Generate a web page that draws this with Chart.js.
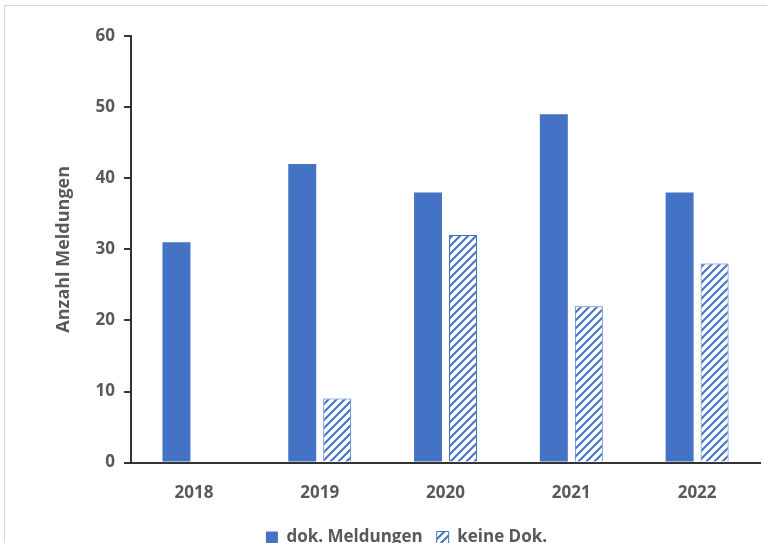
<!DOCTYPE html>
<html>
<head>
<meta charset="utf-8">
<script src="https://cdn.jsdelivr.net/npm/chart.js@4"></script>
<style>
  html, body { margin: 0; padding: 0; background: #fff; overflow: hidden; }
  #frame { position: absolute; left: 4px; top: 5px; width: 770px; height: 560px;
           border-top: 1px solid #d9d9d9; border-left: 1px solid #d9d9d9; }
  #wrap { position: absolute; left: 0; top: 0; width: 767px; height: 556px; }
</style>
</head>
<body>
<div id="frame"></div>
<div id="wrap"><canvas id="chartMeldungen"></canvas></div>
<script>
// Daten
const jahre = ['2018', '2019', '2020', '2021', '2022'];
const dokMeldungen = [31, 42, 38, 49, 38];
const keineDok = [null, 9, 32, 22, 28];

const blau = '#4472C4';
const grau = '#595959';

// Schraffur für "keine Dok."
function schraffur() {
  const c = document.createElement('canvas');
  c.width = 8; c.height = 8;
  const p = c.getContext('2d');
  p.fillStyle = '#fff';
  p.fillRect(0, 0, 8, 8);
  p.strokeStyle = blau;
  p.lineWidth = 2;
  p.beginPath();
  p.moveTo(-2, 10); p.lineTo(10, -2);
  p.moveTo(-2, 2); p.lineTo(2, -2);
  p.moveTo(6, 10); p.lineTo(10, 6);
  p.stroke();
  return p.createPattern(c, 'repeat');
}

const ctx = document.getElementById('chartMeldungen').getContext('2d');

const chartMeldungen = new Chart(ctx, {
  type: 'bar',
  data: {
    labels: jahre,
    datasets: [{
      label: 'dok. Meldungen',
      data: dokMeldungen,
      backgroundColor: blau,
      borderWidth: 0
    }, {
      label: 'keine Dok.',
      data: keineDok,
      backgroundColor: schraffur(),
      borderColor: blau,
      borderWidth: 1
    }]
  },
  options: {
    responsive: true,
    maintainAspectRatio: false,
    animation: false,
    categoryPercentage: 0.556,
    barPercentage: 0.8,
    layout: {
      padding: { left: 53, right: 7, top: 36, bottom: 0 }
    },
    plugins: {
      legend: {
        position: 'bottom',
        labels: {
          boxWidth: 12,
          boxHeight: 12,
          padding: 14,
          color: grau,
          font: { family: 'Open Sans', size: 17, weight: 'bold' }
        }
      },
      tooltip: { enabled: false }
    },
    scales: {
      x: {
        grid: { display: false },
        border: { display: true, color: '#333', width: 2 },
        ticks: {
          color: grau,
          padding: 12,
          font: { family: 'Open Sans', size: 17, weight: 'bold' }
        }
      },
      y: {
        min: 0,
        max: 60,
        ticks: {
          stepSize: 10,
          color: grau,
          padding: 9,
          font: { family: 'Open Sans', size: 17, weight: 'bold' }
        },
        grid: { drawOnChartArea: false, drawTicks: true, tickLength: 7, color: '#333', lineWidth: 2 },
        border: { display: true, color: '#333', width: 2 },
        title: {
          display: true,
          text: 'Anzahl Meldungen',
          color: grau,
          padding: { top: 0, bottom: 12 },
          font: { family: 'Open Sans', size: 18, weight: 'bold' }
        }
      }
    }
  }
});
</script>
</body>
</html>
